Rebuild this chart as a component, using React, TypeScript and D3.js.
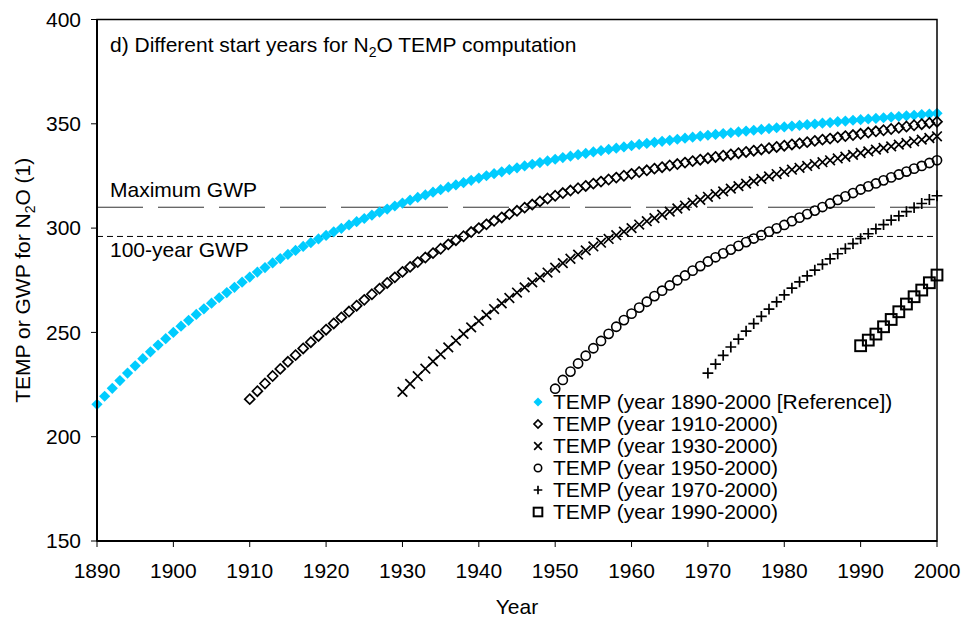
import React from 'react';
import * as d3 from 'd3';

// ---- data ----
const xTicks = [1890, 1900, 1910, 1920, 1930, 1940, 1950, 1960, 1970, 1980, 1990, 2000];
const yTicks = [150, 200, 250, 300, 350, 400];
const maxGWP = 310;
const gwp100 = 296;

const temp1890 = [
  215.5, 219.4, 223.2, 226.9, 230.5, 234.0, 237.4, 240.7, 243.9, 247.0,
  250.0, 253.0, 255.8, 258.6, 261.3, 264.0, 266.6, 269.1, 271.6, 274.1,
  276.5, 278.9, 281.1, 283.3, 285.4, 287.4, 289.3, 291.2, 293.0, 294.8,
  296.5, 298.2, 299.9, 301.5, 303.1, 304.6, 306.2, 307.7, 309.1, 310.6,
  312.0, 313.4, 314.7, 315.9, 317.2, 318.4, 319.6, 320.7, 321.8, 322.9,
  324.0, 325.1, 326.1, 327.0, 328.0, 328.9, 329.8, 330.6, 331.4, 332.2,
  333.0, 333.8, 334.5, 335.2, 335.8, 336.5, 337.1, 337.7, 338.3, 338.9,
  339.5, 340.1, 340.6, 341.1, 341.6, 342.1, 342.6, 343.1, 343.6, 344.1,
  344.5, 344.9, 345.3, 345.7, 346.1, 346.5, 346.9, 347.3, 347.7, 348.1,
  348.5, 348.9, 349.2, 349.6, 349.9, 350.3, 350.6, 351.0, 351.3, 351.7,
  352.0, 352.3, 352.6, 352.9, 353.2, 353.5, 353.8, 354.1, 354.4, 354.7,
  355.0,
];
const temp1910 = [
  218.0, 221.8, 225.5, 229.1, 232.5, 235.9, 239.1, 242.3, 245.3, 248.3,
  251.3, 254.3, 257.2, 260.0, 262.8, 265.6, 268.3, 271.0, 273.7, 276.4,
  279.0, 281.4, 283.7, 285.9, 288.0, 290.1, 292.2, 294.2, 296.1, 298.1,
  300.0, 301.8, 303.5, 305.1, 306.7, 308.3, 309.8, 311.3, 312.8, 314.2,
  315.5, 316.8, 318.0, 319.1, 320.2, 321.3, 322.3, 323.3, 324.2, 325.1,
  326.0, 326.9, 327.7, 328.5, 329.2, 330.0, 330.7, 331.4, 332.1, 332.8,
  333.5, 334.1, 334.7, 335.3, 335.9, 336.5, 337.1, 337.7, 338.3, 338.9,
  339.5, 340.1, 340.6, 341.2, 341.8, 342.4, 342.9, 343.5, 344.1, 344.6,
  345.2, 345.8, 346.4, 346.9, 347.5, 348.1, 348.7, 349.3, 349.8, 350.4,
  351.0,
];
const temp1930 = [
  221.5, 225.3, 229.0, 232.6, 236.1, 239.5, 242.8, 246.1, 249.3, 252.4,
  255.5, 258.4, 261.2, 263.9, 266.5, 269.1, 271.6, 274.0, 276.4, 278.7,
  281.0, 283.2, 285.3, 287.3, 289.3, 291.2, 293.0, 294.8, 296.6, 298.3,
  300.0, 301.7, 303.3, 304.8, 306.4, 307.9, 309.4, 310.8, 312.2, 313.6,
  315.0, 316.3, 317.6, 318.9, 320.1, 321.3, 322.5, 323.6, 324.8, 325.9,
  327.0, 328.0, 328.9, 329.8, 330.7, 331.6, 332.5, 333.4, 334.2, 335.1,
  336.0, 336.8, 337.6, 338.4, 339.2, 340.0, 340.8, 341.6, 342.4, 343.2,
  344.0,
];
const temp1950 = [
  223.0, 227.2, 231.2, 235.1, 238.8, 242.4, 245.9, 249.3, 252.7, 255.9,
  259.0, 261.9, 264.7, 267.4, 270.0, 272.5, 275.0, 277.3, 279.6, 281.8,
  284.0, 286.0, 287.9, 289.7, 291.5, 293.3, 295.0, 296.6, 298.3, 299.9,
  301.5, 303.3, 305.0, 306.7, 308.4, 310.1, 311.8, 313.5, 315.2, 316.8,
  318.5, 320.0, 321.4, 322.9, 324.3, 325.7, 327.1, 328.5, 329.8, 331.2,
  332.5,
];
const temp1970 = [
  230.5, 234.8, 239.0, 243.0, 246.8, 250.6, 254.2, 257.7, 261.2, 264.6,
  268.0, 271.2, 274.2, 277.1, 279.9, 282.6, 285.2, 287.7, 290.2, 292.6,
  295.0, 297.3, 299.6, 301.7, 303.8, 305.9, 307.9, 309.8, 311.8, 313.7,
  315.5,
];
const temp1990 = [
  243.6, 246.3, 249.2, 252.7, 256.2, 259.9, 263.6, 267.1, 270.3, 273.8,
  277.5,
];

type Marker = 'fdiamond' | 'diamond' | 'x' | 'circle' | 'plus' | 'square';
const series: { label: string; start: number; values: number[]; marker: Marker }[] = [
  { label: 'TEMP (year 1890-2000 [Reference])', start: 1890, values: temp1890, marker: 'fdiamond' },
  { label: 'TEMP (year 1910-2000)', start: 1910, values: temp1910, marker: 'diamond' },
  { label: 'TEMP (year 1930-2000)', start: 1930, values: temp1930, marker: 'x' },
  { label: 'TEMP (year 1950-2000)', start: 1950, values: temp1950, marker: 'circle' },
  { label: 'TEMP (year 1970-2000)', start: 1970, values: temp1970, marker: 'plus' },
  { label: 'TEMP (year 1990-2000)', start: 1990, values: temp1990, marker: 'square' },
];

const CYAN = '#00CCFF';
const FONT = '"Liberation Sans", Arial, sans-serif';
const FS = 21;

function MarkerShape({ type, x, y, k = 1 }: { type: Marker; x: number; y: number; k?: number }) {
  const t = `translate(${x},${y})`;
  if (type === 'fdiamond') {
    const s = 5.6 * k;
    return <path transform={t} d={`M0,${-s}L${s},0L0,${s}L${-s},0Z`} fill={CYAN} />;
  }
  if (type === 'diamond') {
    const s = 5.0 * k;
    return <path transform={t} d={`M0,${-s}L${s},0L0,${s}L${-s},0Z`} fill="none" stroke="#000" strokeWidth={1.7} />;
  }
  if (type === 'x') {
    const s = 4.8 * k;
    return <path transform={t} d={`M${-s},${-s}L${s},${s}M${-s},${s}L${s},${-s}`} stroke="#000" strokeWidth={1.7} />;
  }
  if (type === 'circle') {
    return <circle transform={t} r={4.6 * k} fill="none" stroke="#000" strokeWidth={1.6} />;
  }
  if (type === 'plus') {
    const s = 5.4 * k;
    return <path transform={t} d={`M${-s},0L${s},0M0,${-s}L0,${s}`} stroke="#000" strokeWidth={1.7} />;
  }
  const s = 5.4 * k;
  return <rect transform={t} x={-s} y={-s} width={2 * s} height={2 * s} fill="none" stroke="#000" strokeWidth={2} />;
}

export default function App() {
  const W = 963, H = 621;
  const left = 97, right = 937, top = 19.5, bottom = 541;
  const x = d3.scaleLinear().domain([1890, 2000]).range([left, right]);
  const y = d3.scaleLinear().domain([150, 400]).range([bottom, top]);

  const legendX = 538, legendY0 = 402, legendDy = 22;

  return (
    <svg width={W} height={H} style={{ position: 'absolute', left: 0, top: 0, background: '#fff' }}
      fontFamily={FONT}>
      <rect x={0} y={0} width={W} height={H} fill="#fff" />
      {/* reference lines */}
      <line x1={left} x2={right} y1={y(maxGWP)} y2={y(maxGWP)} stroke="#333" strokeWidth={1} strokeDasharray="46,15" />
      <line x1={left} x2={right} y1={y(gwp100)} y2={y(gwp100)} stroke="#000" strokeWidth={1} strokeDasharray="6,4" />
      <text x={110} y={197} fontSize={FS} fill="#000">Maximum GWP</text>
      <text x={110} y={257} fontSize={FS} fill="#000">100-year GWP</text>

      {/* series */}
      {series.map((s) => (
        <g key={s.label}>
          {s.values.map((v, i) => (
            <MarkerShape key={i} type={s.marker} x={x(s.start + i)} y={y(v)} />
          ))}
        </g>
      ))}

      {/* frame */}
      <rect x={left} y={top} width={right - left} height={bottom - top} fill="none" stroke="#000" strokeWidth={1.5} />
      <line x1={left} x2={left} y1={top} y2={bottom} stroke="#000" strokeWidth={2} />
      <line x1={left} x2={right} y1={bottom} y2={bottom} stroke="#000" strokeWidth={2} />

      {/* y axis */}
      {yTicks.map((t) => (
        <g key={t}>
          <line x1={left - 6} x2={left} y1={y(t)} y2={y(t)} stroke="#000" strokeWidth={1} />
          <text x={81} y={y(t)} dy="0.35em" textAnchor="end" fontSize={FS}>{t}</text>
        </g>
      ))}
      {/* x axis */}
      {xTicks.map((t) => (
        <g key={t}>
          <line x1={x(t)} x2={x(t)} y1={bottom} y2={bottom + 6} stroke="#000" strokeWidth={1} />
          <text x={x(t)} y={578} textAnchor="middle" fontSize={FS}>{t}</text>
        </g>
      ))}

      {/* titles */}
      <text x={110} y={52} fontSize={FS}>
        d) Different start years for N<tspan fontSize={14} dy={5}>2</tspan><tspan dy={-5}>O TEMP computation</tspan>
      </text>
      <text x={(left + right) / 2} y={614} textAnchor="middle" fontSize={FS}>Year</text>
      <text transform={`translate(30,${(top + bottom) / 2}) rotate(-90)`} textAnchor="middle" fontSize={FS}>
        TEMP or GWP for N<tspan fontSize={14} dy={5}>2</tspan><tspan dy={-5}>O (1)</tspan>
      </text>

      {/* legend */}
      {series.map((s, i) => (
        <g key={'lg' + i}>
          <MarkerShape type={s.marker} x={legendX} y={legendY0 + i * legendDy} k={0.8} />
          <text x={553} y={legendY0 + i * legendDy} dy="0.35em" fontSize={FS}>{s.label}</text>
        </g>
      ))}
    </svg>
  );
}
